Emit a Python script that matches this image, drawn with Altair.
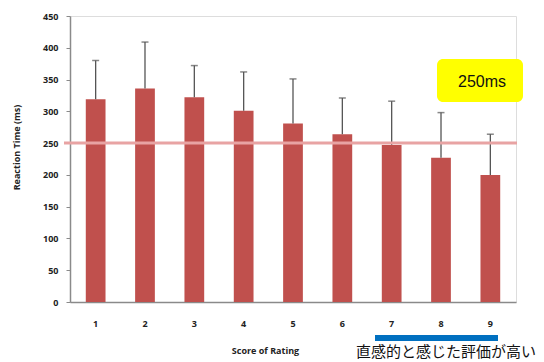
import altair as alt
import pandas as pd

scores = ["1", "2", "3", "4", "5", "6", "7", "8", "9"]
means = [319, 336, 322, 301, 281, 264, 247, 227, 200]
uppers = [380, 409, 372, 362, 351, 321, 316, 298, 264]
threshold = [250]
box_label = ["250ms"]
note = ["直感的と感じた評価が高い"]

df = pd.DataFrame({"score": scores, "mean": means, "upper": uppers})

FONT = "Open Sans"
xaxis = alt.Axis(title="Score of Rating", labelAngle=0, ticks=False,
                 labelPadding=17, labelFont=FONT, labelFontWeight="bold",
                 labelFontSize=9, labelColor="#222",
                 domainColor="#8a8a8a", domainWidth=1.5,
                 titleFont=FONT, titleFontSize=9, titleFontWeight="bold",
                 titleColor="#222", titleX=195, titleY=48,
                 titleBaseline="middle", titleAlign="center")
xscale = alt.Scale(paddingInner=0.6, paddingOuter=0.32)
yscale = alt.Scale(domain=[0, 450], nice=False)
yaxis = alt.Axis(title="Reaction Time (ms)", values=list(range(0, 451, 50)),
                 labelOverlap=False,
                 grid=False, tickSize=4, tickColor="#8a8a8a", labelPadding=8,
                 labelFont=FONT, labelFontWeight="bold", labelFontSize=9,
                 labelColor="#222", domainColor="#8a8a8a", domainWidth=1.5,
                 titleFont=FONT, titleFontSize=9, titleFontWeight="bold",
                 titleColor="#222", titleX=-54, titleY=131,
                 titleAlign="center", titleBaseline="middle")

def X():
    return alt.X("score:N", sort=scores, scale=xscale, axis=xaxis)

def Y(field):
    return alt.Y(field, scale=yscale, axis=yaxis)

base = alt.Chart(df)
bars = base.mark_bar(color="#C0504D").encode(x=X(), y=Y("mean:Q"))
stems = base.mark_rule(color="#555555", strokeWidth=1.3).encode(
    x=X(), y=Y("mean:Q"), y2="upper:Q")
caps = base.mark_tick(color="#555555", size=7, thickness=1.5, orient="horizontal").encode(
    x=X(), y=Y("upper:Q"))

line = alt.Chart(pd.DataFrame({"v": threshold})).mark_rule(
    color="#E8A3A3", strokeWidth=3).encode(
    y=Y("v:Q"), x=alt.value(-6), x2=alt.value(447))

box = alt.Chart(pd.DataFrame({"t": box_label})).mark_rect(
    color="#FFFF00", cornerRadius=6).encode(
    x=alt.value(367), x2=alt.value(453), y=alt.value(43), y2=alt.value(86))
box_text = alt.Chart(pd.DataFrame({"t": box_label})).mark_text(
    font="Liberation Sans", fontSize=16, color="#111", align="center",
    baseline="middle").encode(text="t:N", x=alt.value(412), y=alt.value(66))

blue = alt.Chart(pd.DataFrame({"t": note})).mark_rect(color="#0070C0").encode(
    x=alt.value(305), x2=alt.value(428), y=alt.value(319), y2=alt.value(325))
note_text = alt.Chart(pd.DataFrame({"t": note})).mark_text(
    font="Noto Sans CJK JP", fontSize=15, color="#111", align="center",
    baseline="middle").encode(text="t:N", x=alt.value(376), y=alt.value(336))

chart = alt.layer(bars, stems, caps, line, box, box_text, blue, note_text).properties(
    width=446, height=286, autosize="none",
    padding={"left": 70, "top": 16, "right": 28, "bottom": 60},
).configure_view(stroke=None).configure(background="white")

chart.save("out.html", embed_options={"renderer": "svg", "actions": False})
